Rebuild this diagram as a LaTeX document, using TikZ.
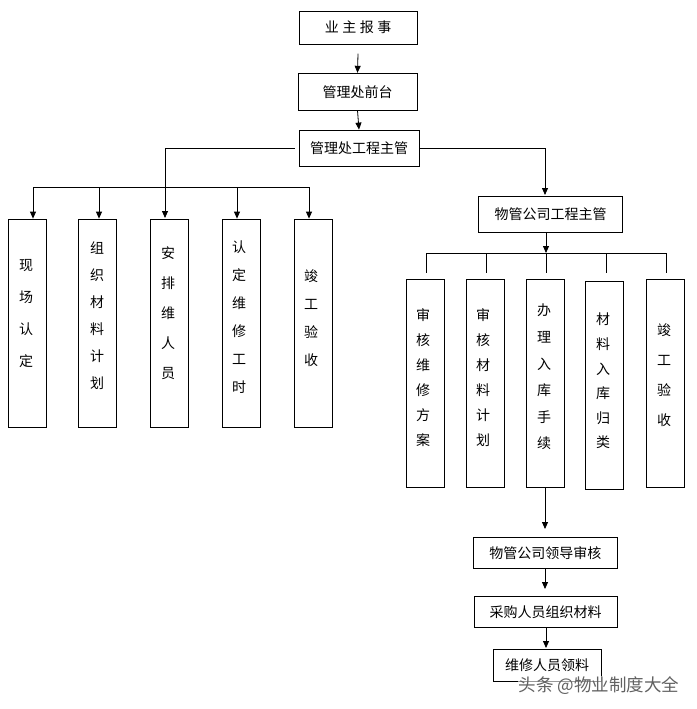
\documentclass[tikz,border=0pt]{standalone}
\usepackage{fontspec}
\setmainfont{Noto Sans CJK SC}
\usetikzlibrary{arrows.meta}
\tikzset{
  box/.style={draw, line width=0.8pt, inner sep=0pt, minimum width=#1},
  ln/.style={line width=0.8pt},
  arr/.style={line width=0.8pt, -{Triangle[width=6pt,length=7pt]}},
  htxt/.style={font=\fontsize{14pt}{16pt}\selectfont},
  vt/.style={align=center, inner sep=0pt, font=\fontsize{14pt}{#1}\selectfont},
}
\begin{document}
\begin{tikzpicture}[x=1pt,y=-1pt]
\useasboundingbox (0,0) rectangle (696,709);
% top chain
\node[box=118pt, minimum height=33pt, htxt] (top) at (358,27.7) {业\hspace{3.5pt}主\hspace{3.5pt}报\hspace{3.5pt}事};
\node[box=119pt, minimum height=37pt, htxt] (qt) at (357.5,91.7) {管理处前台};
\node[box=120pt, minimum height=36pt, htxt] (gc) at (359,148) {管理处工程主管};
\node[box=144pt, minimum height=35.6pt, htxt] (wg) at (550.5,214.5) {物管公司工程主管};
\draw[arr] ([yshift=-9pt]top.south) -- (qt.north);
\draw[arr] (qt.south) -- (gc.north);
% left boxes
\node[box=38pt, minimum height=208pt] (L1) at (27,323) {};
\node[box=38pt, minimum height=208pt] (L2) at (97,323) {};
\node[box=38pt, minimum height=208pt] (L3) at (169,323) {};
\node[box=38pt, minimum height=208pt] (L4) at (241,323) {};
\node[box=38pt, minimum height=208pt] (L5) at (313,323) {};
\node[vt=32pt] (tL1) at (26,314) {现\\场\\认\\定};
\node[vt=27pt] (tL2) at (97,316) {组\\织\\材\\料\\计\\划};
\node[vt=30pt] (tL3) at (168,313) {安\\排\\维\\人\\员};
\node[vt=28pt] (tL4) at (239,317) {认\\定\\维\\修\\工\\时};
\node[vt=28pt] (tL5) at (311,318) {竣\\工\\验\\收};
% left connectors
\coordinate (c3) at (165,218);
\coordinate (cw) at (545,195);
\coordinate (bL1) at (33,187.3);
\coordinate (bL2) at (99,187.3);
\coordinate (bL4) at (237,187.3);
\coordinate (bL5) at (309,187.3);
\draw[arr] ([xshift=-4pt]gc.west) -| (c3);
\draw[arr] (gc.east) -| (cw);
\draw[ln] (bL1) -- (bL5);
\draw[arr] (bL1) -- (bL1 |- L1.north);
\draw[arr] (bL2) -- (bL2 |- L2.north);
\draw[arr] (bL4) -- (bL4 |- L4.north);
\draw[arr] (bL5) -- (bL5 |- L5.north);
% right boxes
\node[box=37.6pt, minimum height=208pt] (R1) at (425.5,383) {};
\node[box=37.6pt, minimum height=208pt] (R2) at (485.5,383) {};
\node[box=37.6pt, minimum height=208pt] (R3) at (545.5,383) {};
\node[box=37.6pt, minimum height=208pt] (R4) at (604.5,385) {};
\node[box=37.6pt, minimum height=208pt] (R5) at (665.5,383) {};
\node[vt=25pt] (tR1) at (423,378) {审\\核\\维\\修\\方\\案};
\node[vt=25pt] (tR2) at (483,378) {审\\核\\材\\料\\计\\划};
\node[vt=26.6pt] (tR3) at (544,377) {办\\理\\入\\库\\手\\续};
\node[vt=24.6pt] (tR4) at (603,381) {材\\料\\入\\库\\归\\类};
\node[vt=30pt] (tR5) at (664,375) {竣\\工\\验\\收};
% right bus
\coordinate (rb1) at (426,253);
\coordinate (rb2) at (486.7,253);
\coordinate (rb3) at (546,253);
\coordinate (rb4) at (606.7,253);
\coordinate (rb5) at (666,253);
\draw[arr] (rb3 |- wg.south) -- (rb3);
\draw[ln] (rb1) -- (rb5);
\foreach \c in {rb1,rb2,rb3,rb4,rb5} \draw[ln] (\c) -- ++(0,20);
% bottom chain
\node[box=144pt, minimum height=31pt, htxt] (ld) at (545.3,552.8) {物管公司领导审核};
\node[box=143.3pt, minimum height=31.3pt, htxt] (cg) at (545.7,611.7) {采购人员组织材料};
\node[box=107.7pt, minimum height=32.4pt, htxt] (wx) at (547.2,665.5) {维修人员领料\hspace{3pt}};
\coordinate (a1) at (545,529);
\coordinate (a2) at (545,589);
\coordinate (a3) at (546,648);
\draw[arr] (a1 |- R3.south) -- (a1);
\draw[arr] (a2 |- ld.south) -- (a2);
\draw[arr] (a3 |- cg.south) -- (a3);
% watermark
\node[text=black!62, font=\fontsize{17.5pt}{19pt}\selectfont, inner sep=1pt, fill=white, fill opacity=0.6, text opacity=1] (wm) at (599,685.5) {头条 @物业制度大全};
\end{tikzpicture}
\end{document}
